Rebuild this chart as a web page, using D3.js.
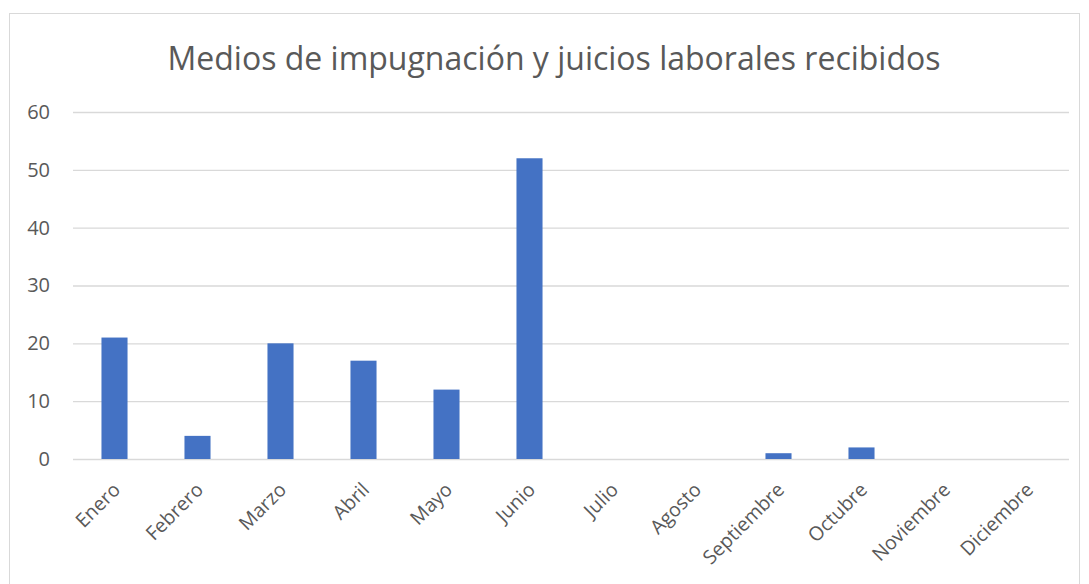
<!DOCTYPE html>
<html>
<head>
<meta charset="utf-8">
<script src="https://cdn.jsdelivr.net/npm/d3@7"></script>
<style>
  html, body { margin: 0; padding: 0; background: #fff; }
  svg { display: block; font-family: "Open Sans", "Noto Sans", sans-serif; }
</style>
</head>
<body>
<svg id="chart" width="1089" height="584"></svg>
<script>
// Monthly counts of appeals and labour lawsuits received
const months = ["Enero", "Febrero", "Marzo", "Abril", "Mayo", "Junio", "Julio", "Agosto", "Septiembre", "Octubre", "Noviembre", "Diciembre"];
const received = [21, 4, 20, 17, 12, 52, 0, 0, 1, 2, 0, 0];
const yTicks = [0, 10, 20, 30, 40, 50, 60];
const chartTitle = "Medios de impugnación y juicios laborales recibidos";

const svg = d3.select("#chart");

// chart area frame
svg.append("rect")
  .attr("x", 9.5).attr("y", 13.5)
  .attr("width", 1070).attr("height", 600)
  .attr("fill", "#fff")
  .attr("stroke", "#d9d9d9").attr("stroke-width", 1);

const plot = { left: 73, right: 1069, top: 112, bottom: 459 };

const x = d3.scaleBand()
  .domain(months)
  .range([plot.left, plot.right])
  .paddingInner(0.686)
  .paddingOuter(0.343);

const y = d3.scaleLinear()
  .domain([0, 60])
  .range([plot.bottom, plot.top]);

// title
svg.append("text")
  .attr("x", 554).attr("y", 70)
  .attr("text-anchor", "middle")
  .attr("fill", "#595959")
  .attr("font-size", 32)
  .text(chartTitle);

// gridlines + y labels
const yAxis = d3.axisLeft(y)
  .tickValues(yTicks)
  .tickSize(-(plot.right - plot.left))
  .tickPadding(23);

const gy = svg.append("g")
  .attr("transform", `translate(${plot.left},0)`)
  .call(yAxis);
gy.select(".domain").remove();
gy.selectAll(".tick line").attr("stroke", "#d9d9d9").attr("stroke-width", 1.3);
gy.selectAll(".tick text")
  .attr("fill", "#595959")
  .attr("font-size", 20)
  .attr("font-family", "\"Open Sans\", sans-serif");

// bars
svg.append("g")
  .selectAll("rect")
  .data(months.map((m, i) => ({ m, v: received[i] })))
  .join("rect")
  .attr("x", d => x(d.m))
  .attr("y", d => y(d.v))
  .attr("width", x.bandwidth())
  .attr("height", d => y(0) - y(d.v))
  .attr("fill", "#4472c4");

// x labels, rotated
const xAxis = d3.axisBottom(x).tickSize(0).tickPadding(0);
const gx = svg.append("g")
  .attr("transform", `translate(0,${plot.bottom})`)
  .call(xAxis);
gx.select(".domain").remove();
gx.selectAll(".tick text")
  .attr("fill", "#595959")
  .attr("font-size", 19.5)
  .attr("font-family", "\"Open Sans\", sans-serif")
  .attr("text-anchor", "end")
  .attr("dy", null)
  .attr("y", 0)
  .attr("transform", "translate(7,32) rotate(-45)");
</script>
</body>
</html>
